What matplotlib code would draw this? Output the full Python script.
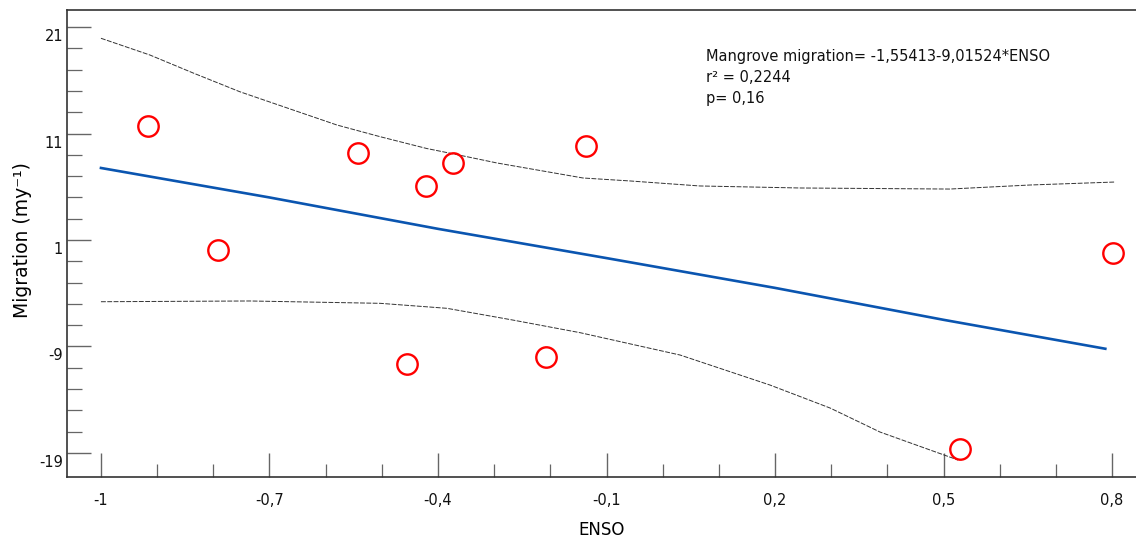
import matplotlib
matplotlib.use("Agg")
import matplotlib.pyplot as plt
import numpy as np
from matplotlib.ticker import FixedLocator
from matplotlib.transforms import ScaledTranslation

# ENSO index vs mangrove migration
enso = [-0.916, -0.792, -0.542, -0.456, -0.422, -0.374, -0.207, -0.137, 0.530, 0.801]
migration = [11.71, 0.06, 9.15, -10.68, 6.08, 8.27, -9.97, 9.83, -18.61, -0.25]

# fitted line as drawn
fit_x = [-1.0, -0.7, -0.4, -0.1, 0.2, 0.5, 0.788]
fit_y = [7.77, 5.00, 2.05, -0.70, -3.50, -6.50, -9.22]

# confidence band, upper and lower
upper_x = [-1.0, -0.913, -0.836, -0.753, -0.658, -0.580, -0.503, -0.420, -0.373,
           -0.295, -0.142, -0.058, 0.066, 0.244, 0.511, 0.654, 0.805]
upper_y = [19.96, 18.39, 16.70, 14.94, 13.22, 11.81, 10.71, 9.60, 9.10,
           8.24, 6.83, 6.55, 6.08, 5.89, 5.79, 6.17, 6.45]
lower_x = [-1.0, -0.735, -0.503, -0.384, -0.267, -0.147, 0.031, 0.191, 0.298, 0.387, 0.526]
lower_y = [-4.80, -4.73, -4.95, -5.42, -6.52, -7.71, -9.81, -12.63, -14.79, -17.05, -19.68]

x_ticks = [-1, -0.7, -0.4, -0.1, 0.2, 0.5, 0.8]
x_ticklabels = ["-1", "-0,7", "-0,4", "-0,1", "0,2", "0,5", "0,8"]
y_ticks = [-19, -9, 1, 11, 21]
y_ticklabels = ["-19", "-9", "1", "11", "21"]

stats_lines = [
    "Mangrove migration= -1,55413-9,01524*ENSO",
    "r² = 0,2244",
    "p= 0,16",
]

fig = plt.figure(figsize=(11.36, 5.39), dpi=100)
ax = fig.add_axes([0.0592, 0.1145, 0.9408, 0.8664])

ax.plot(upper_x, upper_y, color="#333333", lw=0.7, dashes=(5, 1.5))
ax.plot(lower_x, lower_y, color="#333333", lw=0.7, dashes=(5, 1.5))
ax.plot(fit_x, fit_y, color="#0a55b0", lw=1.9)
ax.plot(enso, migration, linestyle="none", marker="o", ms=14.7,
        markerfacecolor="none", markeredgecolor="#ff0000", markeredgewidth=1.7)

ax.set_xlim(-1.06, 0.8426)
ax.set_ylim(-21.30, 22.59)

ax.spines["right"].set_visible(False)
for side in ["left", "top", "bottom"]:
    ax.spines[side].set_color("#333333")
    ax.spines[side].set_linewidth(1.2)

ax.xaxis.set_major_locator(FixedLocator(x_ticks))
ax.xaxis.set_minor_locator(FixedLocator(np.arange(-1, 0.85, 0.1)))
ax.yaxis.set_major_locator(FixedLocator(y_ticks))
ax.yaxis.set_minor_locator(FixedLocator(np.arange(-19, 22, 2)))
ax.set_xticklabels(x_ticklabels)
ax.set_yticklabels(y_ticklabels)

ax.tick_params(axis="both", which="both", direction="in", color="#666666",
               labelsize=10.5, labelcolor="#111111", top=False, right=False)
ax.tick_params(axis="x", which="major", length=17.3, width=1.0, pad=11)
ax.tick_params(axis="x", which="minor", length=9.4, width=0.9)
ax.tick_params(axis="y", which="major", length=17.3, width=1.0, pad=3)
ax.tick_params(axis="y", which="minor", length=10.8, width=0.9)

# y labels sit a little below their ticks in the original
shift = ScaledTranslation(0, -8 / 100, fig.dpi_scale_trans)
for lbl in ax.get_yticklabels():
    lbl.set_transform(lbl.get_transform() + shift)

ax.set_xlabel("ENSO", fontsize=12)
ax.xaxis.set_label_coords(0.5, -0.094)
ax.set_ylabel("Migration (my⁻¹)", fontsize=13.5)
ax.yaxis.set_label_coords(-0.033, 0.508)

for i, line in enumerate(stats_lines):
    ax.text(0.077, 18.29 - i * 2.0, line, fontsize=10.5, va="center", ha="left",
            color="#111111")

fig.savefig("out.png", dpi=100)
